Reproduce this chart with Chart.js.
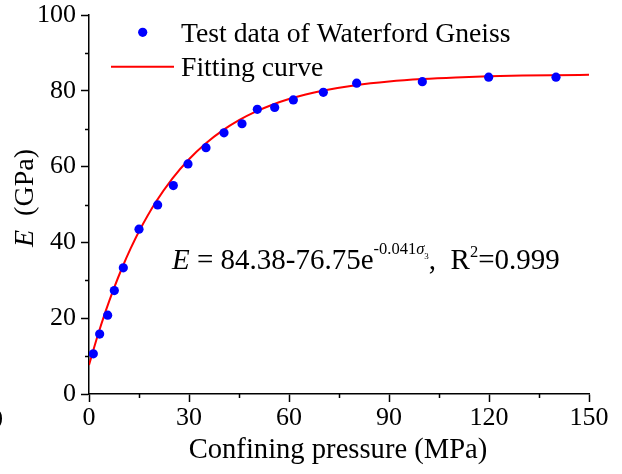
<!DOCTYPE html>
<html>
<head>
<meta charset="utf-8">
<script src="https://cdn.jsdelivr.net/npm/chart.js@4/dist/chart.umd.min.js"></script>
<style>
html,body{margin:0;padding:0;background:#fff;}
#wrap{position:relative;width:622px;height:474px;}
</style>
</head>
<body>
<div id="wrap"><canvas id="c"></canvas></div>
<script>
// Test data
const pressure = [1.3, 3.2, 5.6, 7.6, 10.3, 15.0, 20.6, 25.3, 29.7, 35.1, 40.5, 45.9, 50.5, 55.7, 61.3, 70.3, 80.3, 100.0, 119.9, 140.1];
const modulus  = [10.6, 15.8, 20.8, 27.3, 33.3, 43.5, 49.9, 55.0, 60.7, 65.0, 68.9, 71.3, 75.1, 75.6, 77.6, 79.6, 82.0, 82.4, 83.6, 83.6];
// Fitting curve samples
const fitX = [0, 2.5, 5, 7.5, 10, 12.5, 15, 20, 25, 30, 35, 40, 45, 50, 55, 60, 65, 70, 80, 90, 100, 110, 120, 130, 140, 150];
const fitE = [7.63, 15.10, 21.86, 27.95, 33.44, 38.41, 42.89, 50.58, 56.84, 61.95, 66.10, 69.49, 72.25, 74.50, 76.33, 77.82, 79.04, 80.03, 81.49, 82.46, 83.11, 83.54, 83.82, 84.01, 84.13, 84.22];
// Axes
const xTicks = [0, 30, 60, 90, 120, 150];
const yTicks = [0, 20, 40, 60, 80, 100];
const xMinor = [15, 45, 75, 105, 135];
const yMinor = [10, 30, 50, 70, 90];
const seriesLabels = ["Test data of Waterford Gneiss", "Fitting curve"];
const xTitle = "Confining pressure (MPa)";

const SERIF = '"Liberation Serif", "Times New Roman", serif';

const deco = {
  id: 'deco',
  afterDraw(chart) {
    const ctx = chart.ctx;
    const xs = chart.scales.x, ys = chart.scales.y;
    ctx.save();
    // minor ticks
    ctx.strokeStyle = '#000';
    ctx.lineWidth = 1.5;
    ctx.beginPath();
    xMinor.forEach(v => {
      const px = Math.round(xs.getPixelForValue(v)) + 0.5;
      ctx.moveTo(px, ys.bottom);
      ctx.lineTo(px, ys.bottom + 4);
    });
    yMinor.forEach(v => {
      const py = Math.round(ys.getPixelForValue(v)) + 0.5;
      ctx.moveTo(xs.left, py);
      ctx.lineTo(xs.left - 4, py);
    });
    ctx.stroke();

    ctx.fillStyle = '#000';
    ctx.textBaseline = 'alphabetic';
    ctx.textAlign = 'left';

    // legend
    ctx.fillStyle = '#0000ff';
    ctx.beginPath();
    ctx.arc(142.7, 32.3, 4.6, 0, Math.PI * 2);
    ctx.fill();
    ctx.strokeStyle = '#ff0000';
    ctx.lineWidth = 2;
    ctx.beginPath();
    ctx.moveTo(111, 66.7);
    ctx.lineTo(174, 66.7);
    ctx.stroke();
    ctx.fillStyle = '#000';
    ctx.font = '27.7px ' + SERIF;
    ctx.fillText(seriesLabels[0], 181, 42);
    ctx.fillText(seriesLabels[1], 181, 76);

    // x title
    ctx.font = '28.6px ' + SERIF;
    ctx.textAlign = 'center';
    ctx.fillText(xTitle, 338, 458);

    // y title (rotated, italic E)
    ctx.save();
    ctx.translate(33, 247);
    ctx.rotate(-Math.PI / 2);
    ctx.textAlign = 'left';
    ctx.font = 'italic 28px ' + SERIF;
    ctx.fillText('E', 0, 0);
    let w = ctx.measureText('E').width;
    ctx.font = '28px ' + SERIF;
    ctx.fillText('  (GPa)', w, 0);
    ctx.restore();

    // equation
    ctx.textAlign = 'left';
    let x = 172;
    const base = 269;
    const parts = [
      {t: 'E', f: 'italic 29px', dy: 0},
      {t: ' = 84.38-76.75e', f: '29px', dy: 0},
      {t: '-0.041', f: '16.5px', dy: -15},
      {t: 'σ', f: 'italic 16.5px', dy: -15},
      {t: '3', f: '9px', dy: -10},
      {t: ',  R', f: '29px', dy: 0},
      {t: '2', f: '16.5px', dy: -12},
      {t: '=0.999', f: '29px', dy: 0}
    ];
    parts.forEach(p => {
      ctx.font = p.f + ' ' + SERIF;
      ctx.fillText(p.t, x, base + p.dy);
      x += ctx.measureText(p.t).width;
    });

    // stray label at left edge
    ctx.font = '26px ' + SERIF;
    ctx.textAlign = 'right';
    ctx.fillText('0', 3, 427);
    ctx.restore();
  }
};

new Chart(document.getElementById('c'), {
  type: 'scatter',
  data: {
    datasets: [
      {
        label: seriesLabels[0],
        data: pressure.map((v, i) => ({x: v, y: modulus[i]})),
        backgroundColor: '#0000ff',
        borderColor: '#0000ff',
        borderWidth: 0,
        pointRadius: 4.6,
        pointHoverRadius: 4.6,
        showLine: false
      },
      {
        label: seriesLabels[1],
        data: fitX.map((v, i) => ({x: v, y: fitE[i]})),
        borderColor: '#ff0000',
        backgroundColor: '#ff0000',
        borderWidth: 2,
        pointRadius: 0,
        showLine: true,
        cubicInterpolationMode: 'monotone'
      }
    ]
  },
  options: {
    responsive: true,
    maintainAspectRatio: false,
    animation: false,
    events: [],
    layout: {padding: {left: 0, top: 15, right: 33, bottom: 0}},
    plugins: {legend: {display: false}, tooltip: {enabled: false}},
    scales: {
      x: {
        type: 'linear', min: 0, max: 150,
        afterFit(s) { s.height = 80; },
        afterBuildTicks(s) { s.ticks = xTicks.map(v => ({value: v})); },
        ticks: {color: '#000', font: {family: SERIF, size: 26}, padding: 1, maxRotation: 0, autoSkip: false},
        grid: {drawOnChartArea: false, drawTicks: true, tickLength: 8, tickColor: '#000', tickWidth: 1.5},
        border: {display: true, color: '#000', width: 1.5}
      },
      y: {
        type: 'linear', min: 0, max: 100,
        afterFit(s) { s.width = 89; },
        afterBuildTicks(s) { s.ticks = yTicks.map(v => ({value: v})); },
        ticks: {color: '#000', font: {family: SERIF, size: 26, lineHeight: 0.6}, padding: 5, autoSkip: false},
        grid: {drawOnChartArea: false, drawTicks: true, tickLength: 8, tickColor: '#000', tickWidth: 1.5},
        border: {display: true, color: '#000', width: 1.5}
      }
    }
  },
  plugins: [deco]
});
</script>
</body>
</html>
